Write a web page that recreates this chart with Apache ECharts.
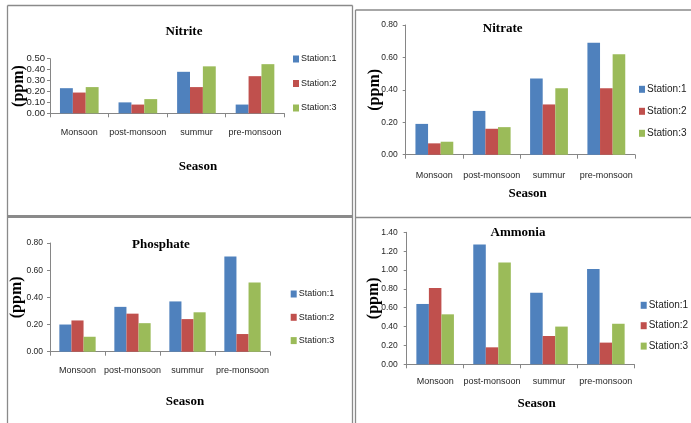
<!DOCTYPE html>
<html><head><meta charset="utf-8">
<script src="https://cdn.jsdelivr.net/npm/echarts@6/dist/echarts.min.js"></script>
<style>html,body{margin:0;padding:0;background:#fff}#c{width:691px;height:423px}</style>
</head><body><div id="c"></div>
<script>
const categories = ['Monsoon', 'post-monsoon', 'summur', 'pre-monsoon'];
const seriesNames = ['Station:1', 'Station:2', 'Station:3'];

const nitrite1 = [0.23, 0.10, 0.38, 0.08];
const nitrite2 = [0.19, 0.08, 0.24, 0.34];
const nitrite3 = [0.24, 0.13, 0.43, 0.45];

const nitrate1 = [0.19, 0.27, 0.47, 0.69];
const nitrate2 = [0.07, 0.16, 0.31, 0.41];
const nitrate3 = [0.08, 0.17, 0.41, 0.62];

const phosphate1 = [0.20, 0.33, 0.37, 0.70];
const phosphate2 = [0.23, 0.28, 0.24, 0.13];
const phosphate3 = [0.11, 0.21, 0.29, 0.51];

const ammonia1 = [0.64, 1.27, 0.76, 1.01];
const ammonia2 = [0.81, 0.18, 0.30, 0.23];
const ammonia3 = [0.53, 1.08, 0.40, 0.43];

// y scale: [min, max, interval]
const nitriteScale = [0, 0.5, 0.1];
const nitrateScale = [0, 0.8, 0.2];
const phosphateScale = [0, 0.8, 0.2];
const ammoniaScale = [0, 1.4, 0.2];

const xAxisTitle = 'Season';
const yAxisTitle = '(ppm)';

const colors = ['#4F81BD', '#C0504D', '#9BBB59'];
const sans = '"Liberation Sans", Arial, sans-serif';
const serif = '"Liberation Serif", "Times New Roman", serif';

const panels = [
  { title: 'Nitrite', data: [nitrite1, nitrite2, nitrite3], scale: nitriteScale,
    grid: { left: 50, top: 58.7, width: 234.3, height: 54.6 },
    titlePos: [184, 32], seasonPos: [198, 167], yLabelSize: 9.5, yLabelMargin: 5, xLabelMargin: 15, nameGap: 23,
    legend: { left: 293, top: 53, itemGap: 12.5, fontSize: 9 } },
  { title: 'Nitrate', data: [nitrate1, nitrate2, nitrate3], scale: nitrateScale,
    grid: { left: 405.7, top: 25, width: 229.3, height: 129.7 },
    titlePos: [502.7, 29], seasonPos: [527.7, 194], yLabelSize: 8.5, yLabelMargin: 8, xLabelMargin: 16, nameGap: 23,
    legend: { left: 639, top: 83.3, itemGap: 10, fontSize: 10 } },
  { title: 'Phosphate', data: [phosphate1, phosphate2, phosphate3], scale: phosphateScale,
    grid: { left: 50, top: 243, width: 220, height: 108.7 },
    titlePos: [161, 245], seasonPos: [185, 402], yLabelSize: 8.5, yLabelMargin: 7, xLabelMargin: 14, nameGap: 25,
    legend: { left: 290.7, top: 288, itemGap: 11.3, fontSize: 9 } },
  { title: 'Ammonia', data: [ammonia1, ammonia2, ammonia3], scale: ammoniaScale,
    grid: { left: 406.7, top: 232.3, width: 227.6, height: 132 },
    titlePos: [518, 233], seasonPos: [536.7, 404], yLabelSize: 8.5, yLabelMargin: 9, xLabelMargin: 13, nameGap: 25,
    legend: { left: 640.7, top: 299.3, itemGap: 8.4, fontSize: 10 } }
];

const axisGray = '#868686';
const option = {
  animation: false,
  backgroundColor: '#ffffff',
  color: colors,
  title: [], legend: [], grid: [], xAxis: [], yAxis: [], series: [],
  graphic: []
};

panels.forEach((p, i) => {
  option.title.push({
    text: p.title, left: p.titlePos[0], top: p.titlePos[1], textAlign: 'center', textVerticalAlign: 'middle',
    padding: 0, textStyle: { fontFamily: serif, fontWeight: 'bold', fontSize: 13, color: '#000' }
  });
  option.title.push({
    text: xAxisTitle, left: p.seasonPos[0], top: p.seasonPos[1], textAlign: 'center', textVerticalAlign: 'middle',
    padding: 0, textStyle: { fontFamily: serif, fontWeight: 'bold', fontSize: 13, color: '#000' }
  });
  option.grid.push(Object.assign({ containLabel: false }, p.grid));
  option.legend.push({
    data: seriesNames, orient: 'vertical', left: p.legend.left, top: p.legend.top, padding: 0,
    itemGap: p.legend.itemGap, itemWidth: 6, itemHeight: 7, icon: 'rect', selectedMode: false,
    textStyle: { fontFamily: sans, fontSize: p.legend.fontSize, color: '#222', lineHeight: 12, padding: [0, 0, 0, -3] }
  });
  option.xAxis.push({
    type: 'category', gridIndex: i, data: categories, boundaryGap: true,
    axisLine: { lineStyle: { color: axisGray, width: 1 } },
    axisTick: { show: true, length: 4, alignWithLabel: false, lineStyle: { color: axisGray } },
    axisLabel: { margin: p.xLabelMargin, fontFamily: sans, fontSize: 9, color: '#262626', interval: 0 },
    splitLine: { show: false }
  });
  option.yAxis.push({
    type: 'value', gridIndex: i, min: p.scale[0], max: p.scale[1], interval: p.scale[2],
    name: yAxisTitle, nameLocation: 'middle', nameGap: p.nameGap, nameRotate: 90, nameMoveOverlap: false,
    nameTextStyle: { fontFamily: serif, fontWeight: 'bold', fontSize: 16, color: '#000' },
    axisLine: { show: true, lineStyle: { color: axisGray, width: 1 } },
    axisTick: { show: true, length: 3, lineStyle: { color: axisGray } },
    axisLabel: { margin: p.yLabelMargin, fontFamily: sans, fontSize: p.yLabelSize, color: '#262626',
      formatter: v => v.toFixed(2) },
    splitLine: { show: false }
  });
  p.data.forEach((arr, k) => {
    option.series.push({
      type: 'bar', name: seriesNames[k], xAxisIndex: i, yAxisIndex: i, data: arr,
      barGap: '0%', barCategoryGap: '34%',
      itemStyle: { color: colors[k] }
    });
  });
});

const border = '#8a8a8a';
function line(x1, y1, x2, y2, w) {
  return { type: 'line', silent: true, z: 100, shape: { x1, y1, x2, y2 }, style: { stroke: border, lineWidth: w || 1.3 } };
}
option.graphic = [
  line(7.5, 5.5, 352.5, 5.5),
  line(7.5, 5.5, 7.5, 423),
  line(352.5, 5.5, 352.5, 423),
  line(7, 216.5, 353, 216.5, 3),
  line(355.5, 10, 355.5, 423),
  line(355.5, 10, 691, 10),
  line(355.5, 217.5, 691, 217.5)
];

const chart = echarts.init(document.getElementById('c'), null, { renderer: 'canvas' });
chart.setOption(option);
</script>
</body></html>
